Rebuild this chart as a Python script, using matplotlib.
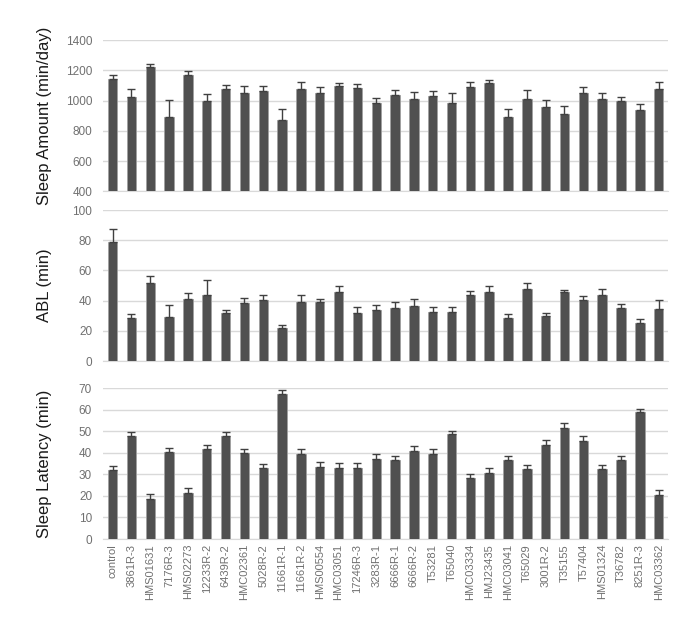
import numpy as np
from matplotlib import pyplot as plt
from matplotlib import rcParams

rcParams['font.family'] = ['Liberation Sans', 'DejaVu Sans']
rcParams['font.size'] = 8

lines = ['control', '3861R-3', 'HMS01631', '7176R-3', 'HMS02273', '12233R-2',
         '6439R-2', 'HMC02361', '5028R-2', '11661R-1', '11661R-2', 'HMS00554',
         'HMC03051', '17246R-3', '3283R-1', '6666R-1', '6666R-2', 'T53281',
         'T65040', 'HMC03334', 'HMJ23435', 'HMC03041', 'T65029', '3001R-2',
         'T35155', 'T57404', 'HMS01324', 'T36782', '8251R-3', 'HMC03362']

sleep_amount = [1141, 1022, 1221, 889, 1168, 995, 1075, 1050, 1061, 873,
                1079, 1050, 1095, 1081, 986, 1037, 1008, 1028, 982, 1088,
                1115, 891, 1008, 960, 909, 1048, 1008, 995, 935, 1075]
sleep_amount_sem = [31, 53, 24, 117, 26, 49, 31, 47, 36, 69,
                    44, 40, 24, 27, 33, 36, 49, 38, 66, 38,
                    22, 51, 62, 44, 55, 42, 40, 29, 45, 51]

abl = [79.1, 28.6, 51.8, 29.3, 41.2, 43.4, 31.9, 38.5, 40.1, 22.0,
       39.2, 39.2, 45.8, 31.9, 34.1, 35.2, 36.6, 32.6, 32.2, 43.4,
       45.4, 28.6, 47.4, 30.0, 45.4, 40.3, 43.4, 34.8, 25.3, 34.6]
abl_sem = [8.6, 2.4, 4.6, 7.7, 4.0, 10.1, 2.0, 3.5, 3.9, 1.8,
           4.6, 2.2, 3.8, 3.6, 3.3, 3.8, 4.4, 3.5, 3.3, 2.9,
           4.2, 2.4, 4.1, 1.5, 1.5, 2.7, 4.0, 2.9, 2.5, 5.7]

latency = [31.9, 47.6, 18.7, 40.2, 21.3, 41.6, 47.6, 39.8, 32.7, 67.1,
           39.6, 33.6, 33.1, 33.1, 37.3, 36.7, 40.7, 39.6, 48.6, 28.2,
           30.5, 36.7, 32.4, 43.6, 51.5, 45.5, 32.4, 36.5, 58.7, 20.4]
latency_sem = [2.0, 1.9, 2.0, 2.0, 2.3, 2.2, 2.0, 2.0, 2.1, 2.0,
               2.0, 2.0, 2.2, 2.2, 2.0, 2.0, 2.2, 2.0, 1.7, 2.0,
               2.5, 2.0, 1.7, 2.3, 2.2, 2.1, 2.1, 2.2, 1.7, 2.3]

panels = [
    (sleep_amount, sleep_amount_sem, 'Sleep Amount (min/day)', (400, 1400), 200),
    (abl, abl_sem, 'ABL (min)', (0, 100), 20),
    (latency, latency_sem, 'Sleep Latency (min)', (0, 70), 10),
]

fig = plt.figure(figsize=(6.88, 6.23), dpi=100)
bottoms = [0.693, 0.4205, 0.1348]
x = np.arange(len(lines))

for (vals, sem, label, ylim, step), b in zip(panels, bottoms):
    ax = fig.add_axes([0.150, b, 0.821, 0.2424])
    vals = np.array(vals)
    sem = np.array(sem)
    ax.bar(x, vals - ylim[0], bottom=ylim[0], width=0.5, color='#505050',
           edgecolor='#a0a0a0', linewidth=0.6, zorder=3)
    ax.errorbar(x, vals, yerr=[np.zeros_like(sem), sem], fmt='none',
                ecolor='#404040', elinewidth=1, capsize=3, capthick=1, zorder=4)
    ax.set_xlim(-0.5, len(lines) - 0.5)
    ax.set_ylim(*ylim)
    ax.set_yticks(np.arange(ylim[0], ylim[1] + step, step))
    ax.grid(axis='y', color='#d9d9d9', linewidth=1, zorder=0)
    for s in ['top', 'right', 'left']:
        ax.spines[s].set_visible(False)
    ax.spines['bottom'].set_color('#d9d9d9')
    ax.tick_params(length=0, colors='#707070', labelsize=8.5)
    ax.tick_params(axis='y', pad=8)
    ax.set_ylabel(label, fontsize=12, color='#1a1a1a')
    ax.yaxis.set_label_coords(-0.09, 0.5)
    ax.set_xticks(x)
    if b == bottoms[-1]:
        ax.set_xticklabels(lines, rotation=90, fontsize=8)
    else:
        ax.set_xticklabels([])

plt.savefig('out.png', dpi=100)
